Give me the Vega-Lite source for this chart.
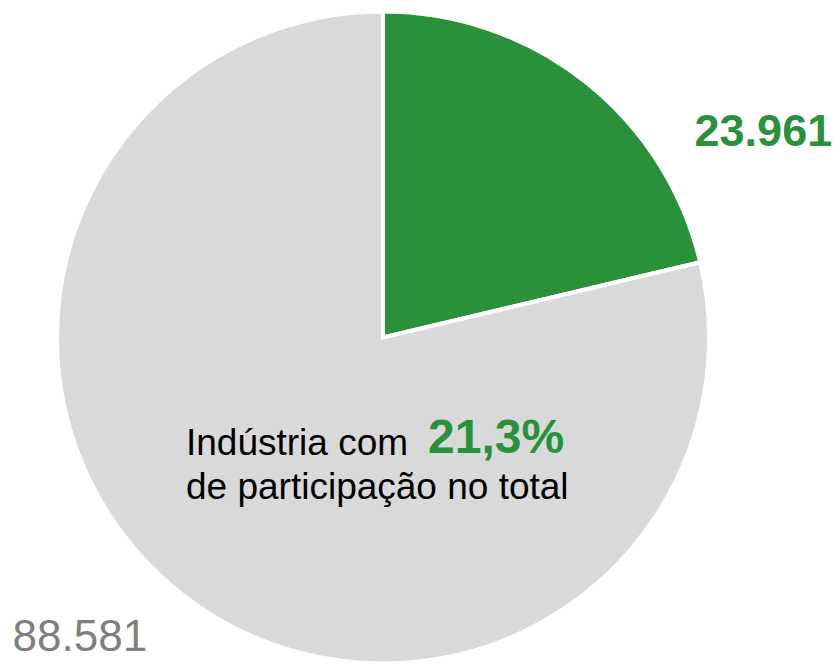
{
  "$schema": "https://vega.github.io/schema/vega-lite/v6.json",
  "width": 766,
  "height": 655,
  "autosize": "none",
  "padding": {"left": 0, "top": 10, "right": 74, "bottom": 0},
  "background": "white",
  "config": {"view": {"stroke": null}, "font": "Liberation Sans"},
  "data": {
    "values": [
      {"categoria": "Indústria", "ordem": 1, "valor": 23961, "rotulo": "23.961", "pct": "21,3%"},
      {"categoria": "Demais", "ordem": 2, "valor": 88581, "rotulo": "88.581", "pct": "78,7%"}
    ]
  },
  "encoding": {
    "theta": {"field": "valor", "type": "quantitative", "stack": true},
    "order": {"field": "ordem", "type": "quantitative", "sort": "ascending"}
  },
  "layer": [
    {
      "mark": {"type": "arc", "outerRadius": 326, "stroke": "white", "strokeWidth": 4},
      "encoding": {
        "color": {
          "field": "categoria",
          "type": "nominal",
          "scale": {"domain": ["Indústria", "Demais"], "range": ["#29913A", "#D9D9D9"]},
          "legend": null
        }
      }
    },
    {
      "mark": {"type": "text", "radius": 386, "dx": 141, "dy": 111, "align": "center", "baseline": "alphabetic", "fontSize": 45, "fontWeight": "bold", "color": "#29913A"},
      "encoding": {
        "text": {"condition": {"test": "datum.categoria === 'Indústria'", "field": "rotulo"}, "value": ""}
      }
    },
    {
      "mark": {"type": "text", "radius": 434, "dx": -34, "dy": -27, "align": "center", "baseline": "alphabetic", "fontSize": 44, "color": "#7F7F7F"},
      "encoding": {
        "text": {"condition": {"test": "datum.categoria === 'Demais'", "field": "rotulo"}, "value": ""}
      }
    },
    {
      "mark": {"type": "text", "radius": 0, "dx": -197, "dy": 117, "align": "left", "baseline": "alphabetic", "fontSize": 37, "color": "#000000"},
      "encoding": {
        "text": {"condition": {"test": "datum.categoria === 'Indústria'", "value": "Indústria com"}, "value": ""}
      }
    },
    {
      "mark": {"type": "text", "radius": 0, "dx": 45, "dy": 115, "align": "left", "baseline": "alphabetic", "fontSize": 48, "fontWeight": "bold", "color": "#29913A"},
      "encoding": {
        "text": {"condition": {"test": "datum.categoria === 'Indústria'", "field": "pct"}, "value": ""}
      }
    },
    {
      "mark": {"type": "text", "radius": 0, "dx": -197, "dy": 161, "align": "left", "baseline": "alphabetic", "fontSize": 37, "color": "#000000"},
      "encoding": {
        "text": {"condition": {"test": "datum.categoria === 'Indústria'", "value": "de participação no total"}, "value": ""}
      }
    }
  ]
}
